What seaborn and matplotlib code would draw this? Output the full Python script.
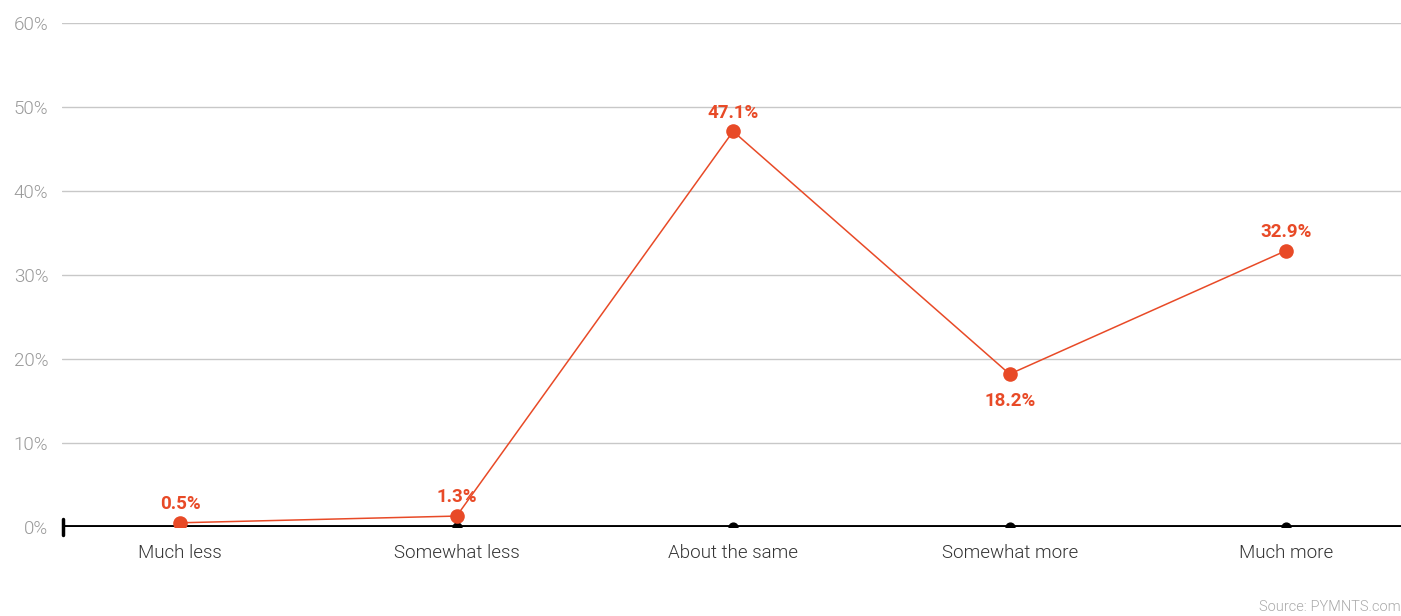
import matplotlib
matplotlib.use("Agg")
import matplotlib.pyplot as plt
import seaborn as sns
import pandas as pd

categories = ["Much less", "Somewhat less", "About the same", "Somewhat more", "Much more"]
values = [0.5, 1.3, 47.1, 18.2, 32.9]
yticks = [0, 10, 20, 30, 40, 50, 60]
ytick_labels = ["0%", "10%", "20%", "30%", "40%", "50%", "60%"]
label_below = [False, False, False, True, False]

sns.set_style("white")
plt.rcParams['font.family'] = ['Roboto', 'DejaVu Sans']

RED = "#E84A27"
df = pd.DataFrame({"x": range(len(categories)), "v": values})

fig = plt.figure(figsize=(14.01, 6.16), dpi=100)
ax = fig.add_axes([0.0443, 0.1445, 0.9566, 0.8182])

for t in yticks[1:]:
    ax.axhline(t, color="#c8c8c8", lw=1, zorder=0)

sns.lineplot(data=df, x="x", y="v", ax=ax, color=RED, lw=1.1, marker="o",
             markersize=10.5, markeredgewidth=0, zorder=4)

# baseline
ax.axhline(0, color="black", lw=2.8, zorder=3)
ax.plot([-0.425, -0.425], [-0.9, 0.9], color="black", lw=2.5, zorder=3, clip_on=False)
ax.scatter(df["x"], [0] * len(categories), color="black", s=40, zorder=3)

for i, (v, below) in enumerate(zip(values, label_below)):
    if below:
        ax.annotate(f"{v}%", (i, v), xytext=(0, -13), textcoords="offset points",
                    ha="center", va="top", color=RED, fontsize=13.5, fontweight="bold", zorder=5)
    else:
        ax.annotate(f"{v}%", (i, v), xytext=(0, 7), textcoords="offset points",
                    ha="center", va="bottom", color=RED, fontsize=13.5, fontweight="bold", zorder=5)

ax.set_xlim(-0.427, 4.42)
ax.set_ylim(0, 60)
ax.set_yticks(yticks)
ax.set_yticklabels(ytick_labels, color="#999999", fontsize=13.5, fontweight=300)
ax.set_xticks(range(len(categories)))
ax.set_xticklabels(categories, color="#333333", fontsize=13.5, fontweight=300)
ax.tick_params(axis="both", length=0)
ax.tick_params(axis="x", pad=12)
ax.tick_params(axis="y", pad=10)
ax.set_xlabel("")
ax.set_ylabel("")
for s in ax.spines.values():
    s.set_visible(False)

fig.text(0.9995, 0.003, "Source: PYMNTS.com", ha="right", va="bottom",
         color="#aaaaaa", fontsize=10.5, fontweight=300)

fig.savefig("out.png", dpi=100)
